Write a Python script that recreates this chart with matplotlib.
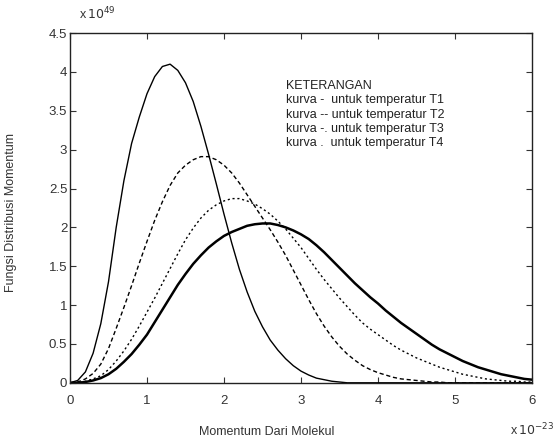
import numpy as np
import matplotlib
matplotlib.use("Agg")
import matplotlib.pyplot as plt

# momentum (x 10^-23), 0.0 ... 6.0 in steps of 0.1
p = [round(0.1 * i, 1) for i in range(61)]

# distribution values (x 10^49)
t1 = [0.0, 0.03, 0.14, 0.38, 0.76, 1.30, 2.00, 2.60, 3.08, 3.42,
      3.72, 3.94, 4.07, 4.10, 4.02, 3.86, 3.62, 3.30, 2.94, 2.56,
      2.17, 1.80, 1.46, 1.17, 0.92, 0.72, 0.55, 0.42, 0.31, 0.22,
      0.15, 0.10, 0.06, 0.04, 0.02, 0.01, 0.0, 0.0, 0.0, 0.0,
      0.0, 0.0, 0.0, 0.0, 0.0, 0.0, 0.0, 0.0, 0.0, 0.0,
      0.0, 0.0, 0.0, 0.0, 0.0, 0.0, 0.0, 0.0, 0.0, 0.0, 0.0]
t2 = [0.0, 0.01, 0.05, 0.12, 0.24, 0.44, 0.70, 0.97, 1.25, 1.54,
      1.82, 2.09, 2.33, 2.54, 2.70, 2.80, 2.87, 2.91, 2.91, 2.87,
      2.80, 2.70, 2.57, 2.42, 2.27, 2.12, 1.97, 1.81, 1.64, 1.45,
      1.26, 1.07, 0.89, 0.73, 0.59, 0.47, 0.37, 0.29, 0.22, 0.17,
      0.13, 0.10, 0.07, 0.05, 0.04, 0.03, 0.02, 0.01, 0.01, 0.0,
      0.0, 0.0, 0.0, 0.0, 0.0, 0.0, 0.0, 0.0, 0.0, 0.0, 0.0]
t3 = [0.0, 0.0, 0.02, 0.05, 0.09, 0.17, 0.28, 0.41, 0.56, 0.73,
      0.91, 1.09, 1.28, 1.47, 1.66, 1.84, 1.99, 2.12, 2.22, 2.29,
      2.34, 2.37, 2.37, 2.34, 2.30, 2.24, 2.17, 2.08, 1.98, 1.86,
      1.74, 1.60, 1.46, 1.33, 1.21, 1.09, 0.98, 0.87, 0.77, 0.69,
      0.62, 0.55, 0.48, 0.42, 0.37, 0.32, 0.28, 0.24, 0.20, 0.17,
      0.14, 0.11, 0.09, 0.07, 0.05, 0.04, 0.03, 0.02, 0.02, 0.01, 0.01]
t4 = [0.0, 0.0, 0.01, 0.03, 0.06, 0.11, 0.18, 0.27, 0.37, 0.49,
      0.62, 0.78, 0.94, 1.10, 1.26, 1.40, 1.53, 1.64, 1.74, 1.82,
      1.89, 1.94, 1.98, 2.02, 2.04, 2.05, 2.05, 2.03, 2.00, 1.96,
      1.91, 1.85, 1.77, 1.68, 1.58, 1.48, 1.38, 1.28, 1.19, 1.10,
      1.02, 0.93, 0.85, 0.77, 0.70, 0.63, 0.56, 0.49, 0.43, 0.38,
      0.33, 0.28, 0.24, 0.20, 0.17, 0.14, 0.11, 0.09, 0.07, 0.05, 0.04]

legend_lines = ["KETERANGAN",
                "kurva -  untuk temperatur T1",
                "kurva -- untuk temperatur T2",
                "kurva -. untuk temperatur T3",
                "kurva .  untuk temperatur T4"]

plt.rcParams["font.family"] = ["Liberation Sans", "DejaVu Sans"]

fig = plt.figure(figsize=(5.6, 4.41), dpi=100)
ax = fig.add_axes([0.125, 0.132, 0.825, 0.793])

ax.plot(p, t1, color="black", lw=1.0, ls="-")
ax.plot(p, t2, color="black", lw=1.0, ls=(0, (3, 2)))
ax.plot(p, t3, color="black", lw=1.0, ls=(0, (1.5, 2)))
ax.plot(p, t4, color="black", lw=1.8, ls="-")

ax.set_xlim(0, 6)
ax.set_ylim(0, 4.5)
ax.set_xticks(np.arange(0, 7, 1))
ax.set_yticks(np.arange(0, 5, 0.5))
ax.set_xticklabels(["0", "1", "2", "3", "4", "5", "6"])
ax.set_yticklabels(["0", "0.5", "1", "1.5", "2", "2.5", "3", "3.5", "4", "4.5"])
ax.tick_params(direction="in", top=True, right=True, length=4,
               labelsize=9.5, colors="#333333")
ax.tick_params(axis="x", pad=9)
ax.tick_params(axis="y", pad=2)
for s in ax.spines.values():
    s.set_color("#222222")
    s.set_linewidth(1.0)

# legend text block (the original is plain text, not a legend box)
for i, line in enumerate(legend_lines):
    ax.text(2.81, 3.82 - i * 0.185, line, fontsize=9, color="#222222",
            va="center", ha="left")

fig.text(267 / 560, 1 - 432 / 441, "Momentum Dari Molekul", fontsize=9,
         ha="center", va="center", color="#333333")
fig.text(11 / 560, 1 - 212 / 441, "Fungsi Distribusi Momentum", fontsize=9,
         rotation=90, ha="center", va="center", color="#333333")
fig.text(532 / 560, 1 - 430 / 441, r"x$\,10^{-23}$", fontsize=9,
         ha="center", va="center", color="#333333")
fig.text(97 / 560, 1 - 14 / 441, r"x$\,10^{49}$", fontsize=9,
         ha="center", va="center", color="#333333")

fig.savefig("out.png", dpi=100)
